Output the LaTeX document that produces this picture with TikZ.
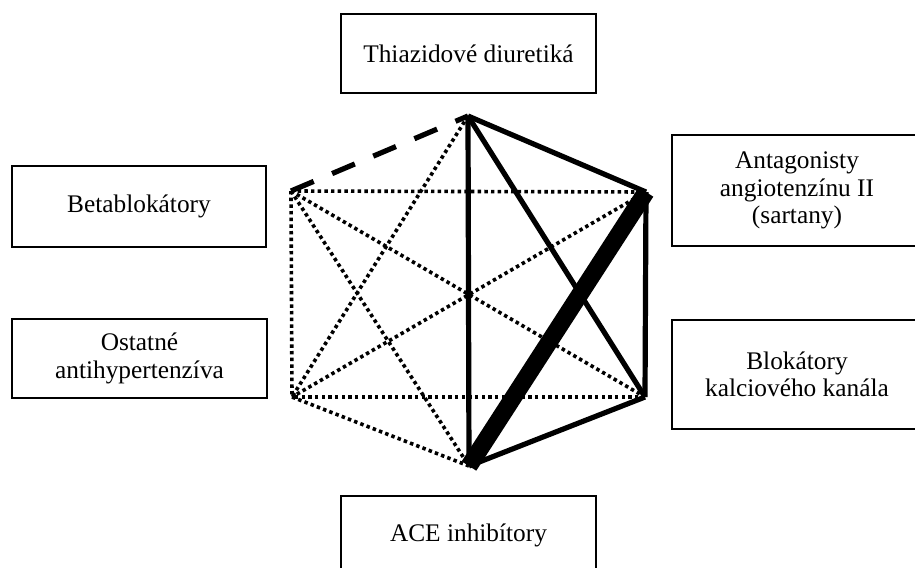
\documentclass[tikz,border=0pt]{standalone}
\usepackage{fontspec}
\setmainfont{Liberation Serif}
\begin{document}
\begin{tikzpicture}[x=0.75pt,y=-0.75pt,
  box/.style={draw, line width=1.5pt, inner sep=0pt, align=center,
    font=\fontsize{19}{20.5}\selectfont},
  dotedge/.style={line width=2.7pt, dash pattern=on 2.6pt off 2.4pt},
  dashedge/.style={line width=3.9pt, dash pattern=on 18.5pt off 15pt},
  solidedge/.style={line width=3.9pt},
  heavyedge/.style={line width=13pt}]
\useasboundingbox (0,0) rectangle (915,568);
\clip (0,0) rectangle (915,568);

% boxes
\node[box, minimum width=191.25pt, minimum height=59.25pt] (thz) at (468.5,53.5) {Thiazidové diuretiká};
\node[box, minimum width=190.5pt, minimum height=60.75pt] (beta) at (139,206.5) {Betablokátory};
\node[box, minimum width=191.25pt, minimum height=59.25pt] (ost) at (139.5,358.5) {Ostatné\\antihypertenzíva};
\node[box, minimum width=187.5pt, minimum height=83.25pt] (sart) at (797,190.5) {Antagonisty\\angiotenzínu II\\(sartany)};
\node[box, minimum width=187.5pt, minimum height=81.75pt] (blok) at (797,374.5) {Blokátory\\kalciového kanála};
\node[box, minimum width=191.25pt, minimum height=59.25pt] (ace) at (468.5,535.5) {ACE inhibítory};

% hexagon vertices
\coordinate (T) at (468,116);
\coordinate (AR) at (646,192);
\coordinate (BR) at (645,397);
\coordinate (B) at (469,466);
\coordinate (BL) at (292,397);
\coordinate (AL) at (291,191);

% dotted edges
\draw[dotedge] (T) -- (BL);
\draw[dotedge] (AL) -- (AR);
\draw[dotedge] (AL) -- (BR);
\draw[dotedge] (AL) -- (B);
\draw[dotedge] (AL) -- (BL);
\draw[dotedge] (AR) -- (BL);
\draw[dotedge] (BR) -- (BL);
\draw[dotedge] (BL) -- (B);

% dashed edge
\draw[dashedge] (AL) -- (T);

% solid edges
\draw[solidedge] (T) -- (AR);
\draw[solidedge] (T) -- (B);
\draw[solidedge] (T) -- (BR);
\draw[solidedge] (AR) -- (BR);
\draw[solidedge] (BR) -- (B);

% heavy edge
\draw[heavyedge] (AR) -- (B);
\end{tikzpicture}
\end{document}
